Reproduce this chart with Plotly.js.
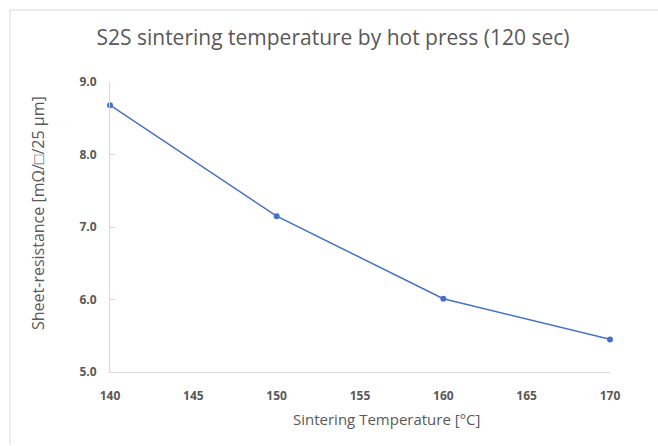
<!DOCTYPE html>
<html>
<head>
<meta charset="utf-8">
<script src="https://cdn.plot.ly/plotly-3.0.1.min.js"></script>
<style>
html,body{margin:0;padding:0;background:#fff;}
#chart{width:658px;height:446px;}
</style>
</head>
<body>
<div id="chart"></div>
<script>
const temperatures = [140, 150, 160, 170];
const sheetResistance = [8.68, 7.15, 6.01, 5.45];
const xTickVals = [140, 145, 150, 155, 160, 165, 170];
const yTickVals = [5, 6, 7, 8, 9];
const yTickText = ['5.0', '6.0', '7.0', '8.0', '9.0'];
const chartTitle = 'S2S sintering temperature by hot press (120 sec)';
const xTitle = 'Sintering Temperature [°C]';
const yTitle = 'Sheet-resistance [mΩ/□/25 μm]';

const font = "'Open Sans', 'Noto Sans', sans-serif";
const gray = '#595959';
const W = 658, H = 446;
const M = {l: 110, r: 48, t: 82, b: 74};
const pw = W - M.l - M.r, ph = H - M.t - M.b;
const px = v => (v - M.l) / pw;          // pixel x -> paper x
const py = v => (H - M.b - v) / ph;      // pixel y -> paper y

const trace = {
  x: temperatures,
  y: sheetResistance,
  type: 'scatter',
  mode: 'lines+markers',
  line: {color: '#4472C4', width: 1.5},
  marker: {color: '#4472C4', size: 6},
  hoverinfo: 'skip',
  cliponaxis: false
};

const layout = {
  width: W,
  height: H,
  margin: M,
  paper_bgcolor: '#fff',
  plot_bgcolor: '#fff',
  showlegend: false,
  title: {
    text: chartTitle,
    font: {family: font, size: 21, color: gray},
    x: 333 / W, xref: 'container', xanchor: 'center',
    y: 1 - 38 / H, yref: 'container', yanchor: 'middle'
  },
  xaxis: {
    range: [140, 170],
    tickvals: xTickVals,
    ticktext: xTickVals.map(String),
    showgrid: false,
    zeroline: false,
    showline: true,
    linecolor: '#d9d9d9',
    linewidth: 1,
    ticks: '',
    ticklabelstandoff: 13,
    tickfont: {family: font, size: 12, color: gray, weight: 'bold'}
  },
  yaxis: {
    range: [5, 9],
    tickvals: yTickVals,
    ticktext: yTickText,
    showgrid: false,
    zeroline: false,
    showline: true,
    linecolor: '#d9d9d9',
    linewidth: 1,
    ticks: 'inside',
    ticklen: 5,
    tickcolor: '#d9d9d9',
    ticklabelstandoff: 10,
    tickfont: {family: font, size: 12, color: gray, weight: 'bold'}
  },
  annotations: [
    {text: xTitle, xref: 'paper', yref: 'paper', x: px(386), y: py(419),
     xanchor: 'center', yanchor: 'middle', showarrow: false,
     font: {family: font, size: 15, color: gray}},
    {text: yTitle, xref: 'paper', yref: 'paper', x: px(38), y: py(213),
     xanchor: 'center', yanchor: 'middle', showarrow: false, textangle: -90,
     font: {family: font, size: 16, color: gray}}
  ],
  shapes: [
    {type: 'line', xref: 'paper', yref: 'paper',
     x0: px(10), x1: px(10), y0: py(10), y1: py(445),
     line: {color: '#d9d9d9', width: 1}},
    {type: 'line', xref: 'paper', yref: 'paper',
     x0: px(10), x1: px(658), y0: py(10), y1: py(10),
     line: {color: '#d9d9d9', width: 1}}
  ]
};

Plotly.newPlot('chart', [trace], layout, {displayModeBar: false, staticPlot: true});
</script>
</body>
</html>
